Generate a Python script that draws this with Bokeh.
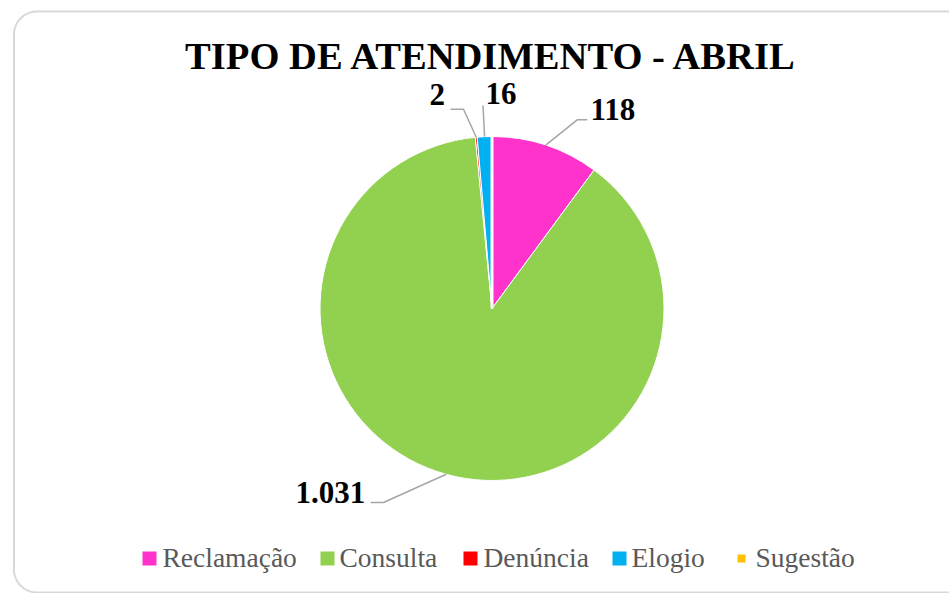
import math
import numpy as np
from bokeh.plotting import figure
from bokeh.models import Range1d
from bokeh.core.properties import value
from bokeh.embed import file_html
from bokeh.resources import INLINE

# ---------------- data ----------------
categories = ["Reclamação", "Consulta", "Denúncia", "Elogio", "Sugestão"]
counts = [118, 1031, 2, 16, 0]
count_labels = ["118", "1.031", "2", "16", ""]
title_text = "TIPO DE ATENDIMENTO - ABRIL"

# ---------------- styles ----------------
colors = ["#FF33CC", "#92D050", "#FF0000", "#00B0F0", "#FFC000"]
W, H = 949, 593
OFF = 0
SERIF = "Liberation Serif"


def S(sx, sy):
    """screen px -> data coords"""
    return sx - OFF, (H + OFF) - sy


p = figure(width=W, height=H, output_backend="svg", toolbar_location=None,
           x_range=Range1d(0, W), y_range=Range1d(0, H),
           x_axis_type=None, y_axis_type=None, min_border=0)
p.outline_line_color = None
p.grid.visible = False
p.background_fill_color = "white"
p.border_fill_color = "white"

# ---------------- frame (rounded border) ----------------
rad = 23
fl, ft = S(13.5, 11)
fr_, fb = S(990, 592)
t1 = np.linspace(math.pi / 2, math.pi, 24)
xs = [fr_, fl + rad] + list(fl + rad + rad * np.cos(t1)) + [fl]
ys = [ft, ft] + list(ft - rad + rad * np.sin(t1)) + [fb + rad]
t2 = np.linspace(math.pi, 1.5 * math.pi, 24)
xs += list(fl + rad + rad * np.cos(t2)) + [fr_]
ys += list(fb + rad + rad * np.sin(t2)) + [fb]
p.line(xs, ys, line_color="#d9d9d9", line_width=2)

# ---------------- pie ----------------
CX, CY = S(491.5, 308)
R = 172
total = sum(counts)
start = math.pi / 2
starts, ends, mids = [], [], []
for c in counts:
    sweep = 2 * math.pi * c / total
    starts.append(start)
    ends.append(start - sweep)
    mids.append(start - sweep / 2)
    start -= sweep

for i, c in enumerate(counts):
    if c > 0:
        p.wedge(x=CX, y=CY, radius=R, start_angle=starts[i], end_angle=ends[i],
                direction="clock", fill_color=colors[i], line_color="white",
                line_width=1)
    else:
        # zero slice: only its white border shows
        p.segment(x0=CX, y0=CY, x1=CX + R * math.cos(starts[i]),
                  y1=CY + R * math.sin(starts[i]), line_color="white",
                  line_width=3)

# ---------------- data labels with leader lines ----------------
# layout: (label left x, label baseline y, leader-line points after the anchor) in screen px
LBL_SHIFT = 10   # compensates the SVG baseline placement
label_layout = {
    0: (590, 119, [(576.7, 119.3), (586.7, 119.3)]),
    1: (295, 502, [(383, 502), (370, 502)]),
    2: (429, 104, [(463, 108.7), (450, 108.7)]),
    3: (485, 103, [(482.5, 105)]),
}
for i, (lx, ly, pts) in label_layout.items():
    ax = CX + R * math.cos(mids[i])
    ay = CY + R * math.sin(mids[i])
    px = [ax] + [S(*q)[0] for q in pts]
    py = [ay] + [S(*q)[1] for q in pts]
    p.line(px, py, line_color="#a6a6a6", line_width=1.5)
    tx, ty = S(lx, ly - LBL_SHIFT)
    p.text(x=[tx], y=[ty], text=[count_labels[i]], text_font=value(SERIF),
           text_font_style="bold", text_font_size="31px", text_color="black",
           text_align="left", text_baseline="alphabetic")

# ---------------- title ----------------
tx, ty = S(491.5, 67 - 12)
p.text(x=[tx], y=[ty], text=[title_text], text_font=value(SERIF),
       text_font_style="bold", text_font_size="38.6px", text_color="black",
       text_align="center", text_baseline="alphabetic")

# ---------------- legend ----------------
leg_sq_x = [142, 320, 463, 612, 737]
leg_sq_size = [14, 14, 14, 14, 8]
leg_txt_x = [162, 339, 483, 631, 755]
leg_y = 558
for i, cat in enumerate(categories):
    s = leg_sq_size[i]
    qx, qy = S(leg_sq_x[i] + s / 2, leg_y)
    p.rect(x=[qx], y=[qy], width=s, height=s, fill_color=colors[i],
           line_color=None)
    txx, tyy = S(leg_txt_x[i], 565.5 - 9)
    p.text(x=[txx], y=[tyy], text=[cat], text_font=value(SERIF),
           text_font_size="27.5px", text_color="#595959", text_align="left",
           text_baseline="alphabetic")

open("out.html", "w").write(file_html(p, INLINE))
